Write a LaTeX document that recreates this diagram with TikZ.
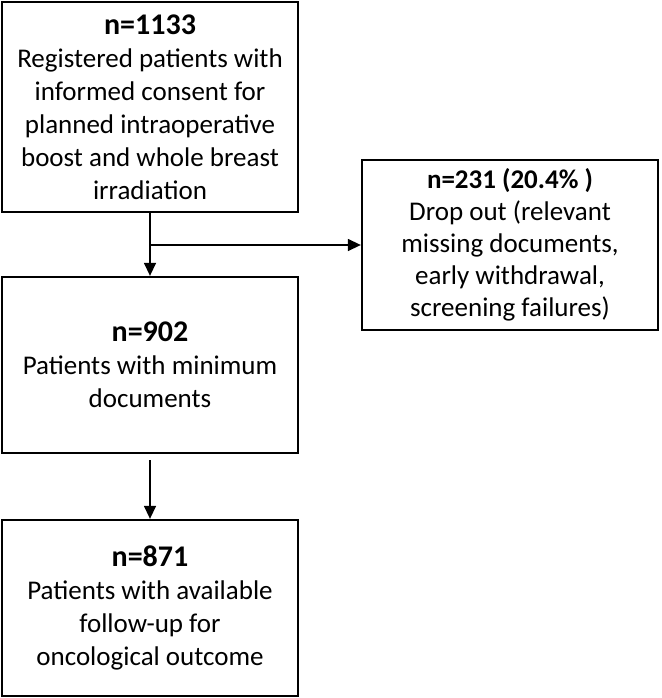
\documentclass[tikz,border=0pt]{standalone}
\usepackage{fontspec}
\setmainfont{Carlito}
\usetikzlibrary{arrows.meta}
\begin{document}
\begin{tikzpicture}[x=1pt,y=-1pt,
  box/.style={draw, line width=2.3pt, inner sep=0pt, align=center,
    font=\fontsize{27}{33}\selectfont},
  conn/.style={line width=1.4pt, -{Triangle[length=13pt,width=12pt]}},
  hd/.style={}]
\useasboundingbox (0,0) rectangle (661,698);
\node[box, minimum width=296pt, minimum height=210pt] (b1) at (150,107)
  {{\fontsize{30}{33}\selectfont\bfseries n=1133}\\Registered patients with\\informed consent for\\planned intraoperative\\boost and whole breast\\irradiation};
\node[box, minimum width=296pt, minimum height=170pt, font=\fontsize{27}{32}\selectfont] (b2) at (510,245)
  {{\bfseries n=231 (20.4\% )}\\Drop out (relevant\\missing documents,\\early withdrawal,\\screening failures)};
\node[box, minimum width=296pt, minimum height=176pt] (b3) at (150,365)
  {{\fontsize{30}{33}\selectfont\bfseries n=902}\\Patients with minimum\\documents};
\node[box, minimum width=296pt, minimum height=176pt] (b4) at (150,608)
  {{\fontsize{30}{33}\selectfont\bfseries n=871}\\Patients with available\\follow-up for\\oncological outcome};
\coordinate (j) at (b1.south |- b2.west);
\draw[conn] (b1.south) -- (b3.north);
\draw[conn] (j) -- (b2.west);
\coordinate (s) at ([yshift=-6pt]b3.south);
\draw[conn] (s) -- (b4.north);
\end{tikzpicture}
\end{document}
